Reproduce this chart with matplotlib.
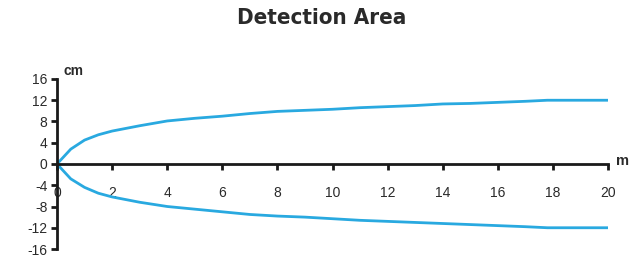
import matplotlib.pyplot as plt

# distance (m) and half-width of detection area (cm)
distance = [0, 0.5, 1, 1.5, 2, 3, 4, 5, 6, 7, 8, 9, 10, 11, 12, 13, 14, 15, 16, 17, 17.8, 19, 20]
upper_cm = [0, 2.8, 4.5, 5.5, 6.2, 7.2, 8.1, 8.6, 9.0, 9.5, 9.9, 10.1, 10.3, 10.6, 10.8, 11.0, 11.3, 11.4, 11.6, 11.8, 12.0, 12.0, 12.0]
lower_cm = [0, -2.8, -4.4, -5.5, -6.2, -7.2, -8.0, -8.5, -9.0, -9.5, -9.8, -10.0, -10.3, -10.6, -10.8, -11.0, -11.2, -11.4, -11.6, -11.8, -12.0, -12.0, -12.0]

x_ticks = [0, 2, 4, 6, 8, 10, 12, 14, 16, 18, 20]
y_ticks = [16, 12, 8, 4, 0, -4, -8, -12, -16]

LINE_COLOR = "#29a9e0"
TEXT_COLOR = "#2a2a2a"

plt.rcParams["font.family"] = ["Liberation Sans", "DejaVu Sans"]
plt.rcParams["axes.unicode_minus"] = False

fig = plt.figure(figsize=(6.37, 2.64), dpi=100)
ax = fig.add_axes([0.0895, 0.0568, 0.865, 0.644])

ax.plot(distance, upper_cm, color=LINE_COLOR, linewidth=2)
ax.plot(distance, lower_cm, color=LINE_COLOR, linewidth=2)

ax.set_xlim(0, 20)
ax.set_ylim(-16, 16)

ax.spines["top"].set_visible(False)
ax.spines["right"].set_visible(False)
ax.spines["bottom"].set_position(("data", 0))
ax.spines["left"].set_linewidth(2)
ax.spines["bottom"].set_linewidth(2)
ax.spines["left"].set_color("#1a1a1a")
ax.spines["bottom"].set_color("#1a1a1a")

ax.set_xticks(x_ticks)
ax.set_yticks(y_ticks)
ax.tick_params(axis="x", direction="out", length=4, width=2, pad=12, labelsize=10,
               color="#1a1a1a", labelcolor=TEXT_COLOR)
ax.tick_params(axis="y", direction="out", length=4, width=2, pad=3, labelsize=10,
               color="#1a1a1a", labelcolor=TEXT_COLOR)

ax.text(0.012, 1.045, "cm", transform=ax.transAxes, fontsize=10, fontweight="bold",
        ha="left", va="center", color=TEXT_COLOR)
ax.text(1.015, 0.52, "m", transform=ax.transAxes, fontsize=10.5, fontweight="bold",
        ha="left", va="center", color=TEXT_COLOR)

fig.text(0.505, 0.932, "Detection Area", ha="center", va="center", fontsize=16, fontweight="bold",
         family="DejaVu Sans", fontstretch="condensed", color=TEXT_COLOR)

fig.savefig("out.png", dpi=100)
